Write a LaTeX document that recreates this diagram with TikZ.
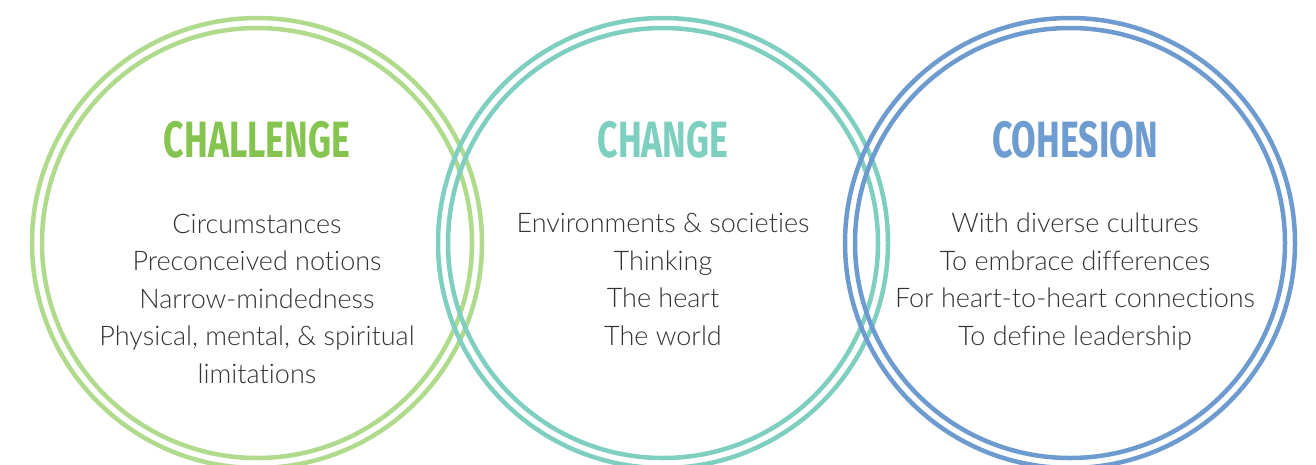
\documentclass[tikz,border=0pt]{standalone}
\usepackage{fontspec}
\setmainfont{Lato}
\newfontfamily\bodyfont{Lato Light}[Ligatures=NoCommon]
\newfontfamily\titlefont{Fira Sans}
\definecolor{ringgreen}{HTML}{B0DA8C}
\definecolor{titlegreen}{HTML}{84C44F}
\definecolor{ringteal}{HTML}{7FCFC1}
\definecolor{titleteal}{HTML}{7DCFC0}
\definecolor{ringblue}{HTML}{6D9BD0}
\definecolor{titleblue}{HTML}{6E9CD0}
\definecolor{textgray}{HTML}{333333}
\tikzset{
  ring/.style={line width=4.5pt},
  titletext/.style={font=\titlefont\bfseries\fontsize{51}{51}\selectfont, inner sep=0pt, anchor=base},
  bodytext/.style={font=\bodyfont\fontsize{27}{37.5}\selectfont, text=textgray, align=center, inner sep=0pt, anchor=base}
}
\begin{document}
\begin{tikzpicture}[x=1pt,y=-1pt]
\useasboundingbox (0,0) rectangle (1316,464);
\clip (0,0) rectangle (1316,464);
\fill[white] (0,0) rectangle (1316,464);
% rings
\draw[ring, draw=ringgreen] (257,243) circle[radius=225];
\draw[ring, draw=ringgreen] (257,243) circle[radius=215];
\draw[ring, draw=ringteal] (663,243) circle[radius=225];
\draw[ring, draw=ringteal] (663,243) circle[radius=215];
\draw[ring, draw=ringblue] (1070,243) circle[radius=225];
\draw[ring, draw=ringblue] (1070,243) circle[radius=215];
% titles
\node[titletext, text=titlegreen] (t1) at (257,157) {\scalebox{0.70}[1]{CHALLENGE}};
\node[titletext, text=titleteal] (t2) at (663,157) {\scalebox{0.70}[1]{CHANGE}};
\node[titletext, text=titleblue] (t3) at (1075,157) {\scalebox{0.70}[1]{COHESION}};
% bodies (anchor base = last line's baseline)
\node[bodytext] (b1) at (257,383) {Circumstances\\Preconceived notions\\Narrow-mindedness\\Physical, mental, \& spiritual\\limitations};
\node[bodytext] (b2) at (663,345) {Environments \& societies\\Thinking\\The heart\\The world};
\node[bodytext] (b3) at (1075,345) {With diverse cultures\\To embrace differences\\For heart-to-heart connections\\To define leadership};
\end{tikzpicture}
\end{document}
